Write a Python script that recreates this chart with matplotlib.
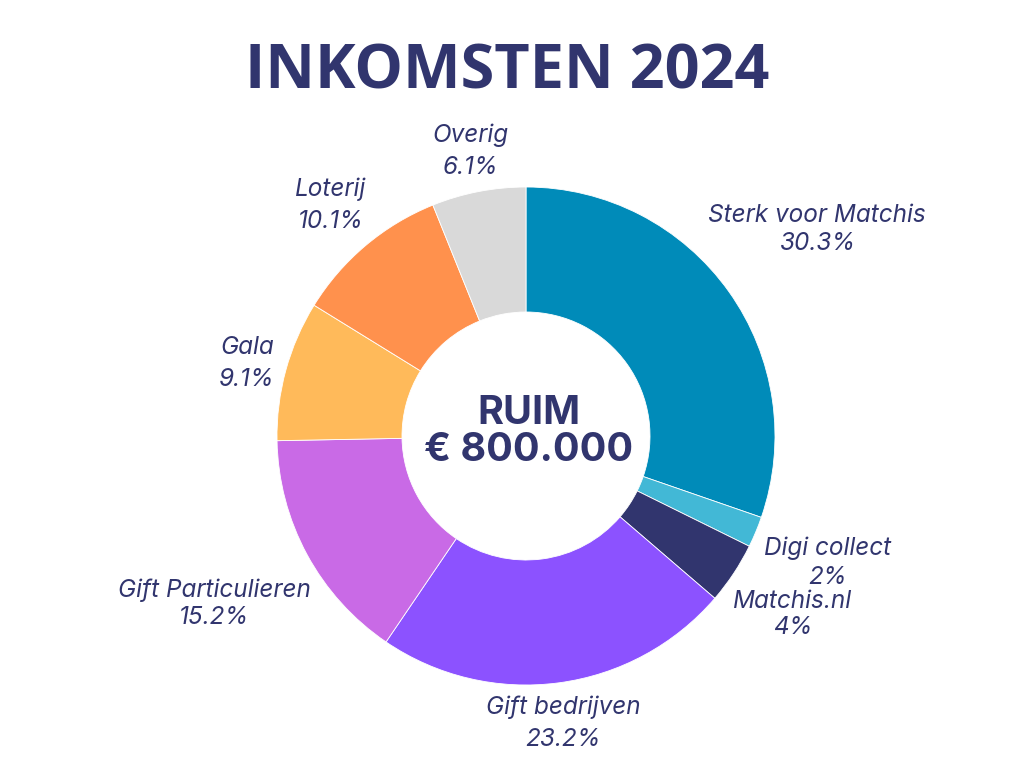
import matplotlib
matplotlib.use("Agg")
import matplotlib.pyplot as plt

# data
categories = ["Sterk voor Matchis", "Digi collect", "Matchis.nl", "Gift bedrijven",
              "Gift Particulieren", "Gala", "Loterij", "Overig"]
shares = [30.3, 2, 4, 23.2, 15.2, 9.1, 10.1, 6.1]
share_labels = ["30.3%", "2%", "4%", "23.2%", "15.2%", "9.1%", "10.1%", "6.1%"]
colors = ["#008BB9", "#42B8D6", "#31356E", "#8C52FF",
          "#C96AE6", "#FFBA5A", "#FF914D", "#D9D9D9"]

title = "INKOMSTEN 2024"
center_text = "RUIM\n€ 800.000"

# label anchors in pixel space (x, y from top) for name line and value line
label_pos = [(817, 216, 243), (828, 548, 578), (793, 602, 628), (563, 707, 740),
             (214, 590, 618), (247, 347, 379), (331, 189, 222), (470, 135, 168)]

navy = "#31356E"
W, H = 1024, 768

fig = plt.figure(figsize=(W / 100, H / 100), dpi=100)
ax = fig.add_axes([0, 0, 1, 1])

cx, cy, r = 526, H - 436, 249
ax.pie(shares, colors=colors, startangle=90, counterclock=False,
       center=(cx, cy), radius=r, frame=True,
       wedgeprops=dict(width=125, linewidth=0.6, edgecolor="white"))
ax.set_xlim(0, W)
ax.set_ylim(0, H)
ax.set_aspect("equal")
ax.axis("off")

ax.text(W / 2 - 5, H - 73, title, ha="center", va="center", fontsize=44,
        fontweight="bold", color=navy, family="Open Sans")
ax.text(cx + 3, cy + 4, center_text, ha="center", va="center", fontsize=28.5,
        fontweight="bold", color=navy, family="Inter", linespacing=1.0)

for name, val, (x, y1, y2) in zip(categories, share_labels, label_pos):
    ax.text(x, H - y1, name, ha="center", va="center", fontsize=17.5,
            style="italic", fontweight="normal", color=navy, family="Inter")
    ax.text(x, H - y2, val, ha="center", va="center", fontsize=17.5,
            style="italic", fontweight="normal", color=navy, family="Inter")

fig.savefig("out.png", dpi=100, facecolor="white")
